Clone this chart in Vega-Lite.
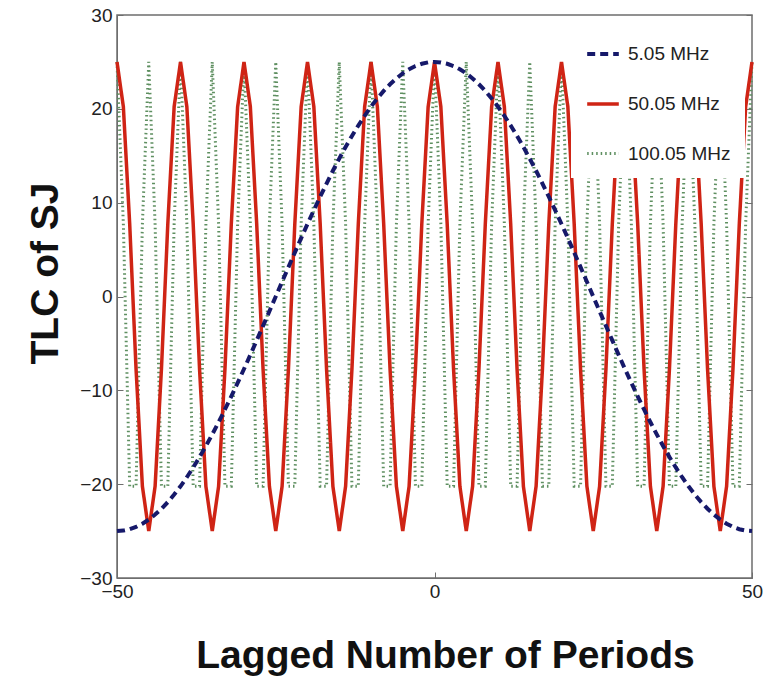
{
  "$schema": "https://vega.github.io/schema/vega-lite/v6.json",
  "width": 635,
  "height": 563,
  "autosize": "none",
  "padding": {"left": 117, "top": 15, "right": 19, "bottom": 102},
  "background": "white",
  "config": {
    "view": {"stroke": "#6e6e6e", "strokeWidth": 1.5},
    "axis": {
      "grid": false,
      "labelFont": "Liberation Sans",
      "labelFontSize": 19,
      "labelColor": "#222222",
      "labelFlush": false,
      "domainColor": "#6e6e6e",
      "tickColor": "#6e6e6e",
      "titleFont": "Liberation Sans",
      "titleFontWeight": "bold",
      "titleFontSize": 39,
      "titleColor": "#111111"
    }
  },
  "resolve": {"axis": {"y": "independent"}},
  "data": {
    "values": [
      {"x": -50, "b": -25, "r": 25, "g": 25},
      {"x": -49, "b": -24.95, "r": 20.23, "g": 7.73},
      {"x": -48, "b": -24.8, "r": 7.73, "g": -20.23},
      {"x": -47, "b": -24.56, "r": -7.73, "g": -20.23},
      {"x": -46, "b": -24.21, "r": -20.23, "g": 7.73},
      {"x": -45, "b": -23.78, "r": -25, "g": 25},
      {"x": -44, "b": -23.24, "r": -20.23, "g": 7.73},
      {"x": -43, "b": -22.62, "r": -7.73, "g": -20.23},
      {"x": -42, "b": -21.91, "r": 7.73, "g": -20.23},
      {"x": -41, "b": -21.11, "r": 20.23, "g": 7.73},
      {"x": -40, "b": -20.23, "r": 25, "g": 25},
      {"x": -39, "b": -19.26, "r": 20.23, "g": 7.73},
      {"x": -38, "b": -18.22, "r": 7.73, "g": -20.23},
      {"x": -37, "b": -17.11, "r": -7.73, "g": -20.23},
      {"x": -36, "b": -15.94, "r": -20.23, "g": 7.73},
      {"x": -35, "b": -14.69, "r": -25, "g": 25},
      {"x": -34, "b": -13.4, "r": -20.23, "g": 7.73},
      {"x": -33, "b": -12.04, "r": -7.73, "g": -20.23},
      {"x": -32, "b": -10.64, "r": 7.73, "g": -20.23},
      {"x": -31, "b": -9.2, "r": 20.23, "g": 7.73},
      {"x": -30, "b": -7.73, "r": 25, "g": 25},
      {"x": -29, "b": -6.22, "r": 20.23, "g": 7.73},
      {"x": -28, "b": -4.68, "r": 7.73, "g": -20.23},
      {"x": -27, "b": -3.13, "r": -7.73, "g": -20.23},
      {"x": -26, "b": -1.57, "r": -20.23, "g": 7.73},
      {"x": -25, "b": 0, "r": -25, "g": 25},
      {"x": -24, "b": 1.57, "r": -20.23, "g": 7.73},
      {"x": -23, "b": 3.13, "r": -7.73, "g": -20.23},
      {"x": -22, "b": 4.68, "r": 7.73, "g": -20.23},
      {"x": -21, "b": 6.22, "r": 20.23, "g": 7.73},
      {"x": -20, "b": 7.73, "r": 25, "g": 25},
      {"x": -19, "b": 9.2, "r": 20.23, "g": 7.73},
      {"x": -18, "b": 10.64, "r": 7.73, "g": -20.23},
      {"x": -17, "b": 12.04, "r": -7.73, "g": -20.23},
      {"x": -16, "b": 13.4, "r": -20.23, "g": 7.73},
      {"x": -15, "b": 14.69, "r": -25, "g": 25},
      {"x": -14, "b": 15.94, "r": -20.23, "g": 7.73},
      {"x": -13, "b": 17.11, "r": -7.73, "g": -20.23},
      {"x": -12, "b": 18.22, "r": 7.73, "g": -20.23},
      {"x": -11, "b": 19.26, "r": 20.23, "g": 7.73},
      {"x": -10, "b": 20.23, "r": 25, "g": 25},
      {"x": -9, "b": 21.11, "r": 20.23, "g": 7.73},
      {"x": -8, "b": 21.91, "r": 7.73, "g": -20.23},
      {"x": -7, "b": 22.62, "r": -7.73, "g": -20.23},
      {"x": -6, "b": 23.24, "r": -20.23, "g": 7.73},
      {"x": -5, "b": 23.78, "r": -25, "g": 25},
      {"x": -4, "b": 24.21, "r": -20.23, "g": 7.73},
      {"x": -3, "b": 24.56, "r": -7.73, "g": -20.23},
      {"x": -2, "b": 24.8, "r": 7.73, "g": -20.23},
      {"x": -1, "b": 24.95, "r": 20.23, "g": 7.73},
      {"x": 0, "b": 25, "r": 25, "g": 25},
      {"x": 1, "b": 24.95, "r": 20.23, "g": 7.73},
      {"x": 2, "b": 24.8, "r": 7.73, "g": -20.23},
      {"x": 3, "b": 24.56, "r": -7.73, "g": -20.23},
      {"x": 4, "b": 24.21, "r": -20.23, "g": 7.73},
      {"x": 5, "b": 23.78, "r": -25, "g": 25},
      {"x": 6, "b": 23.24, "r": -20.23, "g": 7.73},
      {"x": 7, "b": 22.62, "r": -7.73, "g": -20.23},
      {"x": 8, "b": 21.91, "r": 7.73, "g": -20.23},
      {"x": 9, "b": 21.11, "r": 20.23, "g": 7.73},
      {"x": 10, "b": 20.23, "r": 25, "g": 25},
      {"x": 11, "b": 19.26, "r": 20.23, "g": 7.73},
      {"x": 12, "b": 18.22, "r": 7.73, "g": -20.23},
      {"x": 13, "b": 17.11, "r": -7.73, "g": -20.23},
      {"x": 14, "b": 15.94, "r": -20.23, "g": 7.73},
      {"x": 15, "b": 14.69, "r": -25, "g": 25},
      {"x": 16, "b": 13.4, "r": -20.23, "g": 7.73},
      {"x": 17, "b": 12.04, "r": -7.73, "g": -20.23},
      {"x": 18, "b": 10.64, "r": 7.73, "g": -20.23},
      {"x": 19, "b": 9.2, "r": 20.23, "g": 7.73},
      {"x": 20, "b": 7.73, "r": 25, "g": 25},
      {"x": 21, "b": 6.22, "r": 20.23, "g": 7.73},
      {"x": 22, "b": 4.68, "r": 7.73, "g": -20.23},
      {"x": 23, "b": 3.13, "r": -7.73, "g": -20.23},
      {"x": 24, "b": 1.57, "r": -20.23, "g": 7.73},
      {"x": 25, "b": 0, "r": -25, "g": 25},
      {"x": 26, "b": -1.57, "r": -20.23, "g": 7.73},
      {"x": 27, "b": -3.13, "r": -7.73, "g": -20.23},
      {"x": 28, "b": -4.68, "r": 7.73, "g": -20.23},
      {"x": 29, "b": -6.22, "r": 20.23, "g": 7.73},
      {"x": 30, "b": -7.73, "r": 25, "g": 25},
      {"x": 31, "b": -9.2, "r": 20.23, "g": 7.73},
      {"x": 32, "b": -10.64, "r": 7.73, "g": -20.23},
      {"x": 33, "b": -12.04, "r": -7.73, "g": -20.23},
      {"x": 34, "b": -13.4, "r": -20.23, "g": 7.73},
      {"x": 35, "b": -14.69, "r": -25, "g": 25},
      {"x": 36, "b": -15.94, "r": -20.23, "g": 7.73},
      {"x": 37, "b": -17.11, "r": -7.73, "g": -20.23},
      {"x": 38, "b": -18.22, "r": 7.73, "g": -20.23},
      {"x": 39, "b": -19.26, "r": 20.23, "g": 7.73},
      {"x": 40, "b": -20.23, "r": 25, "g": 25},
      {"x": 41, "b": -21.11, "r": 20.23, "g": 7.73},
      {"x": 42, "b": -21.91, "r": 7.73, "g": -20.23},
      {"x": 43, "b": -22.62, "r": -7.73, "g": -20.23},
      {"x": 44, "b": -23.24, "r": -20.23, "g": 7.73},
      {"x": 45, "b": -23.78, "r": -25, "g": 25},
      {"x": 46, "b": -24.21, "r": -20.23, "g": 7.73},
      {"x": 47, "b": -24.56, "r": -7.73, "g": -20.23},
      {"x": 48, "b": -24.8, "r": 7.73, "g": -20.23},
      {"x": 49, "b": -24.95, "r": 20.23, "g": 7.73},
      {"x": 50, "b": -25, "r": 25, "g": 25}
    ]
  },
  "transform": [{"fold": ["g", "r", "b"], "as": ["key", "v"]}],
  "encoding": {
    "x": {
      "field": "x",
      "type": "quantitative",
      "scale": {"domain": [-50, 50], "nice": false},
      "axis": {
        "values": [-50, 0, 50],
        "title": "Lagged Number of Periods",
        "tickSize": -6,
        "labelPadding": 10,
        "titleX": 328,
        "titleY": 77,
        "titleAlign": "center",
        "titleBaseline": "middle"
      }
    },
    "y": {
      "field": "v",
      "type": "quantitative",
      "scale": {"domain": [-30, 30], "nice": false},
      "axis": {
        "values": [-30, -20, -10, 0, 10, 20, 30],
        "title": "TLC of SJ",
        "tickSize": -6,
        "labelPadding": 11,
        "titleX": -72,
        "titleY": 258,
        "titleAlign": "center",
        "titleBaseline": "middle",
        "titleAngle": -90
      }
    },
    "color": {
      "field": "key",
      "type": "nominal",
      "scale": {"domain": ["b", "r", "g"], "range": ["#16196a", "#cf2415", "#5e8f60"]},
      "legend": {
        "title": null,
        "orient": "top-right",
        "offset": 7,
        "padding": 14,
        "fillColor": "white",
        "strokeColor": null,
        "symbolType": "stroke",
        "symbolSize": 1000,
        "labelFont": "Liberation Sans",
        "labelFontSize": 19,
        "labelColor": "#222222",
        "labelOffset": 7,
        "rowPadding": 22,
        "labelExpr": "datum.label == 'b' ? '5.05 MHz' : datum.label == 'r' ? '50.05 MHz' : '100.05 MHz'"
      }
    },
    "strokeDash": {
      "field": "key",
      "type": "nominal",
      "scale": {"domain": ["b", "r", "g"], "range": [[8, 5], [1, 0], [1.5, 3]]},
      "legend": {
        "title": null,
        "orient": "top-right",
        "offset": 7,
        "padding": 14,
        "fillColor": "white",
        "strokeColor": null,
        "symbolType": "stroke",
        "symbolSize": 1000,
        "labelFont": "Liberation Sans",
        "labelFontSize": 19,
        "labelColor": "#222222",
        "labelOffset": 7,
        "rowPadding": 22,
        "labelExpr": "datum.label == 'b' ? '5.05 MHz' : datum.label == 'r' ? '50.05 MHz' : '100.05 MHz'"
      }
    },
    "strokeWidth": {
      "field": "key",
      "type": "nominal",
      "scale": {"domain": ["b", "r", "g"], "range": [4, 3, 1.5]},
      "legend": {
        "title": null,
        "orient": "top-right",
        "offset": 7,
        "padding": 14,
        "fillColor": "white",
        "strokeColor": null,
        "symbolType": "stroke",
        "symbolSize": 1000,
        "labelFont": "Liberation Sans",
        "labelFontSize": 19,
        "labelColor": "#222222",
        "labelOffset": 7,
        "rowPadding": 22,
        "labelExpr": "datum.label == 'b' ? '5.05 MHz' : datum.label == 'r' ? '50.05 MHz' : '100.05 MHz'"
      }
    }
  },
  "layer": [
    {"transform": [{"filter": "datum.key == 'g'"}], "mark": {"type": "line", "strokeCap": "butt"}},
    {
      "transform": [{"filter": "datum.key == 'r'"}],
      "mark": {"type": "line", "strokeCap": "butt", "strokeJoin": "miter"},
      "encoding": {
        "y": {
          "field": "v",
          "type": "quantitative",
          "scale": {"domain": [-30, 30], "nice": false},
          "axis": {
            "orient": "right",
            "values": [-30, -20, -10, 0, 10, 20, 30],
            "labels": false,
            "title": null,
            "domain": false,
            "tickSize": -6
          }
        }
      }
    },
    {
      "transform": [{"filter": "datum.key == 'b'"}],
      "mark": {"type": "line", "strokeCap": "butt"},
      "encoding": {
        "y": {
          "field": "v",
          "type": "quantitative",
          "scale": {"domain": [-30, 30], "nice": false},
          "axis": null
        }
      }
    }
  ]
}
